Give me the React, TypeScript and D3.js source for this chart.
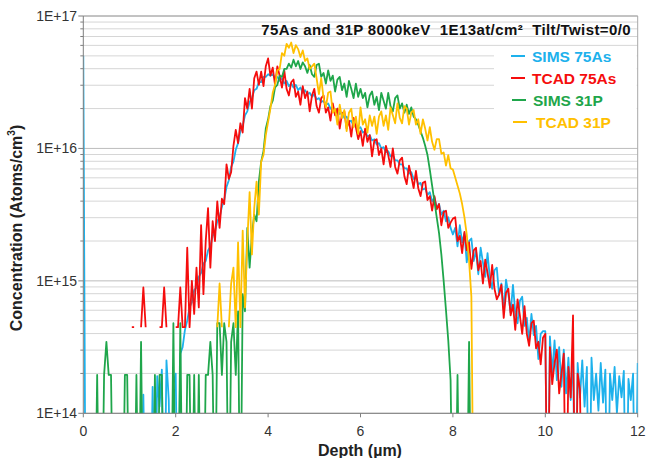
import React from 'react';
import * as d3 from 'd3';

// ---------- data (log10 of concentration, atoms/cm3; 13 = below axis floor, null = no data) ----------
const DEPTH_STEP = 0.05; // µm sampling of the profiles

const sims75AsStart = 0;
const sims75AsLog10: (number | null)[] = [
  16.7, 13, 13, 13, 13, 13, 13, 13, 13, 13, 13, 13, 13, 13, 13, 13, 13, 13, 13, 13,
  13, 13, 13, 13, 13, 13, 14.14, 13, 13, 13, 14.2, 13, 14.28, 14.05, 14.33, 13, 14.4, 14.1, 13, 14.22,
  14.3, 13, 14.45, 14.5, 14.63, 14.7, 14.8, 14.84, 14.93, 14.95, 15.03, 15.06, 15.13, 15.15, 15.23, 15.26, 15.34, 15.37, 15.45, 15.48,
  15.56, 15.61, 15.71, 15.76, 15.86, 15.9, 15.99, 16.04, 16.13, 16.17, 16.25, 16.28, 16.35, 16.38, 16.44, 16.45, 16.5, 16.5, 16.54, 16.54,
  16.56, 16.55, 16.56, 16.53, 16.54, 16.51, 16.53, 16.49, 16.51, 16.47, 16.49, 16.46, 16.48, 16.44, 16.46, 16.42, 16.44, 16.41, 16.42, 16.39,
  16.41, 16.37, 16.38, 16.35, 16.36, 16.33, 16.34, 16.3, 16.31, 16.28, 16.3, 16.26, 16.27, 16.23, 16.24, 16.2, 16.21, 16.17, 16.18, 16.15,
  16.16, 16.12, 16.13, 16.09, 16.1, 16.06, 16.07, 16.03, 16.04, 16.0, 16.01, 15.97, 15.98, 15.94, 15.95, 15.91, 15.91, 15.88, 15.88, 15.85,
  15.85, 15.81, 15.82, 15.77, 15.78, 15.73, 15.74, 15.69, 15.7, 15.65, 15.67, 15.6, 15.63, 15.55, 15.58, 15.5, 15.53, 15.45, 15.48, 15.4,
  15.35, 15.4, 15.26, 15.42, 15.29, 15.36, 15.14, 15.3, 15.32, 15.15, 15.23, 15.05, 15.25, 15.14, 15.03, 15.21, 15.02, 14.94, 15.08, 15.1,
  14.89, 14.98, 14.78, 15.01, 14.9, 14.76, 14.97, 14.76, 14.68, 14.85, 14.88, 14.66, 14.72, 14.54, 14.75, 14.59, 14.66, 14.41, 14.6, 14.62,
  14.62, 13, 14.58, 14.3, 14.55, 14.25, 14.5, 14.2, 14.48, 14.15, 14.42, 14.1, 14.45, 13, 14.38, 14.12, 14.4, 14.05, 14.35, 13,
  14.42, 14.1, 14.3, 14.02, 14.38, 14.08, 14.33, 13, 14.3, 14.1, 14.35, 14.0, 14.28, 14.12, 14.32, 13, 14.26, 14.1, 14.3, 13,
  14.38,
];

const tcad75AsStart = 1;
const tcad75AsLog10: (number | null)[] = [
  null, 14.65, 14.65, null, null, 14.65, 14.95, 14.65, null, null, null, null, null, 14.65, 14.65, 14.95, 14.65, null, null, null,
  14.65, 14.65, 14.95, 14.65, 14.65, 15.25, 14.65, 15.0, 14.75, 15.1, 14.8, 15.42, 14.9, 15.3, 15.55, 15.1, 15.45, 15.3, 15.6, 15.4,
  15.62, 15.58, 15.88, 15.77, 15.82, 16.02, 16.14, 16.04, 16.19, 16.12, 16.38, 16.3, 16.45, 16.3, 16.53, 16.58, 16.48, 16.58, 16.47, 16.62,
  16.68, 16.55, 16.61, 16.48, 16.62, 16.55, 16.46, 16.59, 16.45, 16.4, 16.5, 16.52, 16.39, 16.43, 16.33, 16.47, 16.38, 16.43, 16.28, 16.4,
  16.45, 16.32, 16.27, 16.38, 16.4, 16.27, 16.31, 16.21, 16.34, 16.25, 16.3, 16.15, 16.26, 16.28, 16.15, 16.21, 16.09, 16.23, 16.16, 16.07,
  16.13, 16.02, 16.15, 16.05, 16.1, 15.94, 16.06, 16.07, 15.95, 16.0, 15.88, 16.02, 15.95, 15.86, 16.0, 15.86, 15.81, 15.91, 15.93, 15.79,
  15.73, 15.87, 15.79, 15.7, 15.83, 15.7, 15.64, 15.74, 15.75, 15.61, 15.64, 15.53, 15.64, 15.54, 15.58, 15.42, 15.52, 15.53, 15.4, 15.44,
  15.47, 15.48, 15.3, 15.34, 15.21, 15.37, 15.23, 15.29, 15.09, 15.23, 15.25, 15.08, 15.15, 14.98, 15.16, 15.06, 14.95, 15.12, 14.94, 14.86,
  14.9, 14.97, 14.72, 14.91, 14.94, 14.74, 14.82, 14.63, 14.86, 14.74, 14.6, 14.81, 14.6, 14.51, 14.68, 14.7, 14.49, 14.54, 14.37, 14.57,
  14.6, 13, 14.5, 14.22, 14.38, 14.48, 14.15, 14.3, 14.45, 13, 14.35, 14.12, 14.74, 13, 14.3, 14.18, 13, null, null, null,
  null,
];

const sims31PStart = 0;
const sims31PLog10: (number | null)[] = [
  13, 13, 13, 13, 13, 13, 14.29, 13, 13, 14.29, 14.54, 14.29, 14.29, 13, 13, 13, 13, 13, 14.29, 14.29,
  13, 13, 13, 14.29, 13, 14.54, 13, 13, 13, 13, 13, 14.29, 13, 14.29, 14.29, 13, 13, 13, 13, 14.68,
  13, 13, 14.68, 13, 13, 14.29, 14.29, 13, 14.29, 13, 14.29, 13, 13, 14.29, 14.29, 14.54, 14.29, 13, 14.68, 14.68,
  14.29, 14.68, 14.54, 13, 14.54, 14.68, 14.29, 14.77, 13, 14.9, 14.77, 15.4, 15.1, 15.35, 15.5, 15.45, 15.75, 15.9, 15.98, 16.15,
  16.22, 16.32, 16.36, 16.46, 16.48, 16.55, 16.54, 16.6, 16.6, 16.64, 16.61, 16.67, 16.62, 16.66, 16.6, 16.65, 16.62, 16.57, 16.63, 16.56,
  16.54, 16.63, 16.64, 16.54, 16.57, 16.49, 16.59, 16.51, 16.55, 16.43, 16.52, 16.54, 16.44, 16.49, 16.39, 16.51, 16.45, 16.38, 16.49, 16.39,
  16.45, 16.38, 16.42, 16.31, 16.4, 16.43, 16.33, 16.39, 16.29, 16.42, 16.36, 16.3, 16.42, 16.32, 16.28, 16.38, 16.4, 16.3, 16.34, 16.27,
  16.33, 16.26, 16.31, 16.24, 16.22, 16.18, 16.13, 16.08, 16.02, 15.95, 15.84, 15.72, 15.6, 15.48, 15.36, 15.2, 15.0, 14.78, 14.55, 14.25,
  13, 13, 14.29, 13, 13, 13, 13, 14.54, 13, 13, 13,
];

const tcad31PStart = 2;
const tcad31PLog10: (number | null)[] = [
  null, null, null, null, null, null, null, null, null, null, null, null, null, null, null, null, null, null, 14.65, 14.98,
  14.65, null, null, 14.65, 14.98, 15.1, 14.65, 15.29, 14.65, 15.38, 14.8, 15.3, 15.67, 15.2, 15.55, 15.75, 15.5, 15.9, 15.95, 16.1,
  16.2, 16.3, 16.42, 16.48, 16.59, 16.6, 16.72, 16.7, 16.79, 16.76, 16.8, 16.72, 16.78, 16.75, 16.69, 16.74, 16.66, 16.68, 16.6, 16.62,
  16.64, 16.53, 16.41, 16.53, 16.38, 16.31, 16.42, 16.43, 16.27, 16.3, 16.18, 16.33, 16.23, 16.29, 16.13, 16.27, 16.3, 16.16, 16.24, 16.11,
  16.31, 16.18, 16.22, 16.12, 16.25, 16.17, 16.24, 16.11, 16.24, 16.28, 16.17, 16.25, 16.14, 16.31, 16.25, 16.19, 16.34, 16.23, 16.19, 16.32,
  16.3, 16.18, 16.27, 16.29, 16.18, 16.22, 16.11, 16.22, 16.15, 16.06, 16.16, 16.05, 15.99, 16.07, 16.07, 15.96, 15.97, 15.87, 15.95, 15.85,
  15.84, 15.78, 15.72, 15.66, 15.58, 15.48, 15.35, 15.15, 14.88, 13, 13,
];

const SERIES_NAMES = ['SIMS 75As', 'TCAD 75As', 'SIMS 31P', 'TCAD 31P'];
const SERIES_COLORS = ['#1db1ec', '#f50d0d', '#1fa64b', '#ffc000'];
const SERIES_STARTS = [sims75AsStart, tcad75AsStart, sims31PStart, tcad31PStart];
const SERIES_VALUES = [sims75AsLog10, tcad75AsLog10, sims31PLog10, tcad31PLog10];

const DEPTH_TICKS = [0, 2, 4, 6, 8, 10, 12];
const CONC_DECADES = [1e14, 1e15, 1e16, 1e17];
const CONC_TICK_LABELS = ['1E+14', '1E+15', '1E+16', '1E+17'];
const TITLE = '75As and 31P 8000keV  1E13at/cm\u00B2  Tilt/Twist=0/0';

// ---------- layout ----------
const W = 646;
const H = 458;
const L = 83.3;
const R = 637.7;
const T = 16;
const B = 413.3;
const FONT = '"Liberation Sans", Arial, Helvetica, sans-serif';
const LEGEND_Y = [56, 78, 100, 122];
const LEGEND_LINE_X = [511, 511, 512, 513];
const LEGEND_TEXT_X = [532, 532, 533, 536];

export default function App() {
  const x = d3.scaleLinear().domain([0, 12]).range([L, R]);
  const y = d3.scaleLog().domain([1e14, 1e17]).range([B, T]);

  const minorVals: number[] = [];
  for (let e = 14; e < 17; e++) {
    for (let m = 2; m <= 9; m++) minorVals.push(m * Math.pow(10, e));
  }

  const line = d3
    .line<[number, number | null]>()
    .defined((d) => d[1] !== null)
    .x((d) => x(d[0]))
    .y((d) => y(Math.pow(10, d[1] as number)));

  const paths = SERIES_VALUES.map(
    (vals, si) =>
      line(vals.map((v, i) => [SERIES_STARTS[si] + i * DEPTH_STEP, v] as [number, number | null])) || ''
  );

  return (
    <svg width={W} height={H} style={{ position: 'absolute', left: 0, top: 0, background: '#fff' }} fontFamily={FONT}>
      <defs>
        <clipPath id="plotClip">
          <rect x={L} y={T} width={R - L} height={B - T} />
        </clipPath>
      </defs>
      <rect x={0} y={0} width={W} height={H} fill="#fff" />
      {/* minor grid */}
      {minorVals.map((v, i) => (
        <line key={'mg' + i} x1={L} x2={R} y1={y(v)} y2={y(v)} stroke="#d6d6d6" strokeWidth={1} />
      ))}
      {/* major grid */}
      {CONC_DECADES.map((v, i) => (
        <line key={'Mg' + i} x1={L} x2={R} y1={y(v)} y2={y(v)} stroke="#bcbcbc" strokeWidth={1} />
      ))}
      {/* legend background */}
      <rect x={494} y={49} width={R - 495} height={85} fill="#fff" />
      {/* border */}
      <line x1={L} x2={R} y1={T} y2={T} stroke="#a8a8a8" strokeWidth={1} />
      <line x1={R} x2={R} y1={T} y2={B} stroke="#a8a8a8" strokeWidth={1} />
      {/* series */}
      <g clipPath="url(#plotClip)">
        {paths.map((p, i) => (
          <path key={'s' + i} d={p} fill="none" stroke={SERIES_COLORS[i]} strokeWidth={1.8} strokeLinejoin="round" />
        ))}
      </g>
      {/* axes */}
      <line x1={L} x2={L} y1={T} y2={B} stroke="#7f7f7f" strokeWidth={1} />
      <line x1={L} x2={R} y1={B} y2={B} stroke="#7f7f7f" strokeWidth={1} />
      {minorVals.map((v, i) => (
        <line key={'mt' + i} x1={L - 3} x2={L} y1={y(v)} y2={y(v)} stroke="#7f7f7f" strokeWidth={1} />
      ))}
      {CONC_DECADES.map((v, i) => (
        <line key={'Mt' + i} x1={L - 5} x2={L} y1={y(v)} y2={y(v)} stroke="#7f7f7f" strokeWidth={1} />
      ))}
      {CONC_DECADES.map((v, i) => (
        <text key={'yl' + i} x={77} y={y(v)} dy="0.35em" textAnchor="end" fontSize={14} fill="#333">
          {CONC_TICK_LABELS[i]}
        </text>
      ))}
      {DEPTH_TICKS.map((d, i) => (
        <g key={'xt' + i}>
          <line x1={x(d)} x2={x(d)} y1={B} y2={B + 4} stroke="#7f7f7f" strokeWidth={1} />
          <text x={x(d)} y={431} dy="0.35em" textAnchor="middle" fontSize={14} fill="#333">
            {d}
          </text>
        </g>
      ))}
      {/* axis titles */}
      <text x={360} y={456} textAnchor="middle" fontSize={16} fontWeight="bold" fill="#222">
        Depth (µm)
      </text>
      <text transform="translate(22,228) rotate(-90)" textAnchor="middle" fontSize={16} fontWeight="bold" fill="#222">
        Concentration (Atoms/cm
        <tspan fontSize={10} dy={-7}>3</tspan>
        <tspan dy={7}>)</tspan>
      </text>
      {/* title */}
      <text
        x={631}
        y={35}
        textAnchor="end"
        fontSize={15}
        fontWeight="bold"
        fill="#111"
        letterSpacing={0.4}
        style={{ whiteSpace: 'pre' }}
      >
        {TITLE}
      </text>
      {/* legend */}
      {SERIES_NAMES.map((n, i) => (
        <g key={'lg' + i}>
          <line
            x1={LEGEND_LINE_X[i]}
            x2={LEGEND_LINE_X[i] + 14}
            y1={LEGEND_Y[i]}
            y2={LEGEND_Y[i]}
            stroke={SERIES_COLORS[i]}
            strokeWidth={2}
          />
          <text x={LEGEND_TEXT_X[i]} y={LEGEND_Y[i]} dy="0.36em" fontSize={15.5} fontWeight="bold" fill={SERIES_COLORS[i]}>
            {n}
          </text>
        </g>
      ))}
    </svg>
  );
}
